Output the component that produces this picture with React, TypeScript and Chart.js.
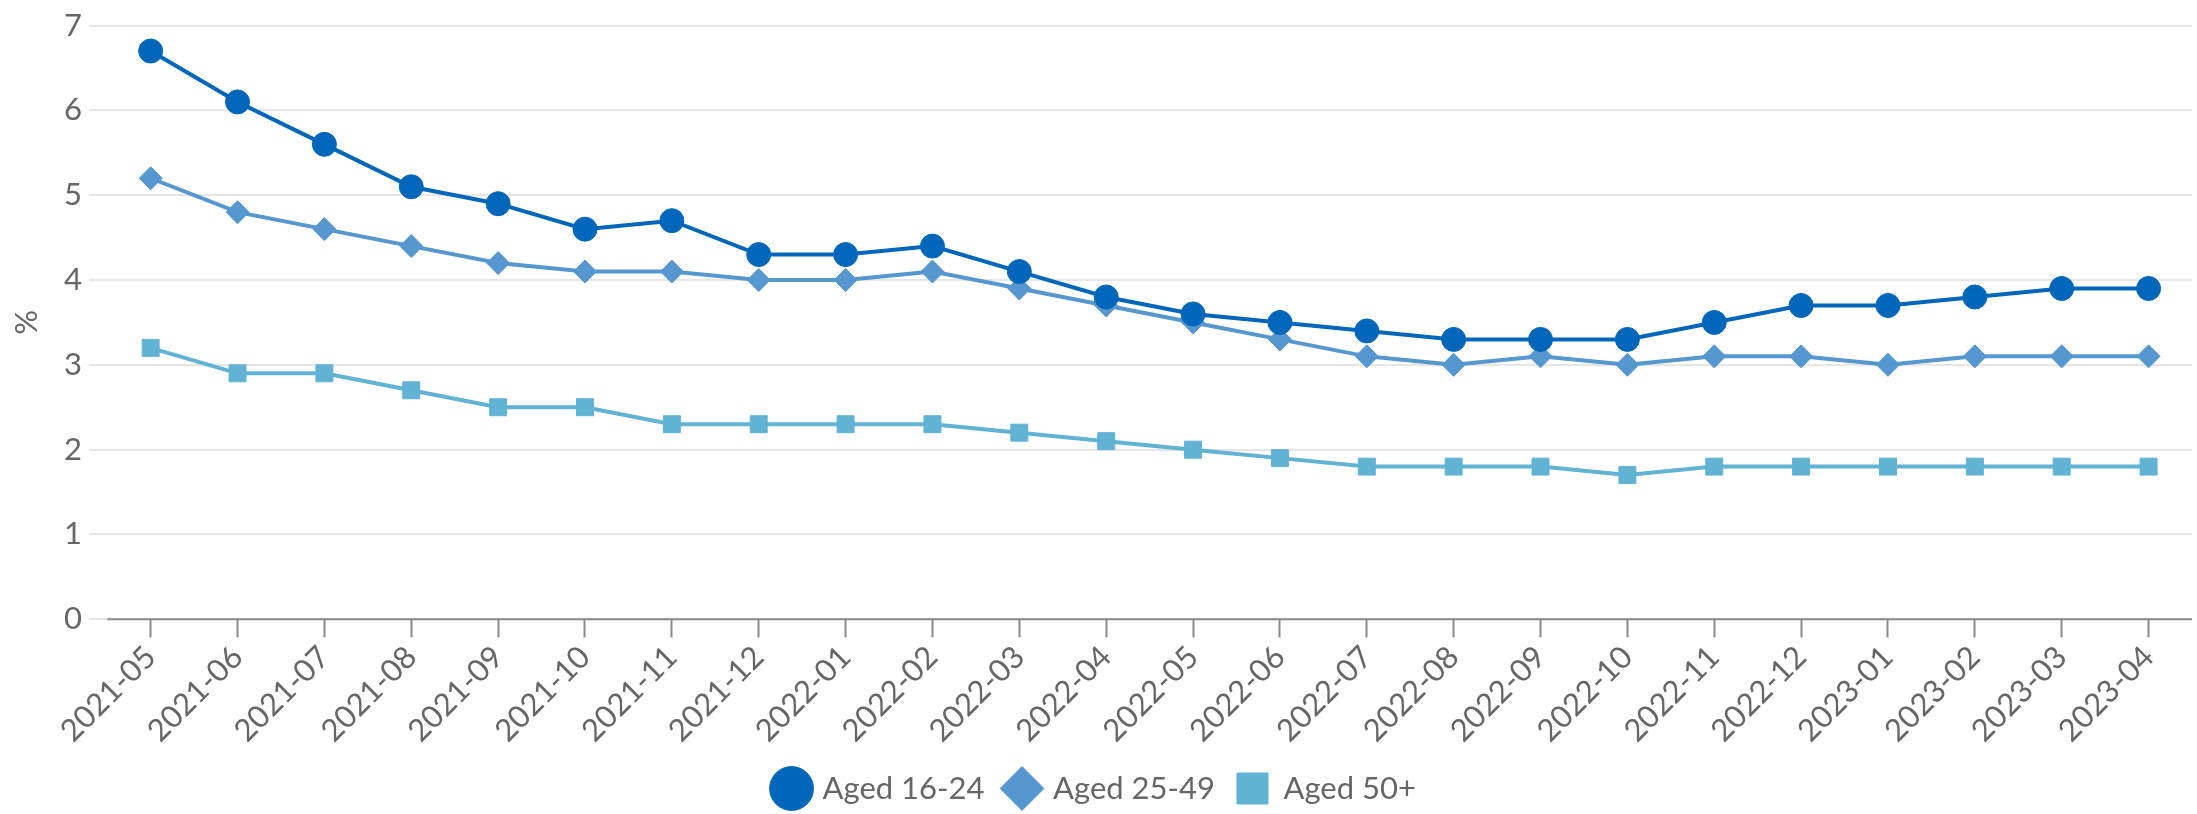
import React, { useEffect, useRef } from 'react';
import { Chart, registerables } from 'chart.js';

Chart.register(...registerables);

const months = [
  '2021-05', '2021-06', '2021-07', '2021-08', '2021-09', '2021-10', '2021-11', '2021-12',
  '2022-01', '2022-02', '2022-03', '2022-04', '2022-05', '2022-06', '2022-07', '2022-08',
  '2022-09', '2022-10', '2022-11', '2022-12', '2023-01', '2023-02', '2023-03', '2023-04',
];

const aged16to24 = [6.7, 6.1, 5.6, 5.1, 4.9, 4.6, 4.7, 4.3, 4.3, 4.4, 4.1, 3.8, 3.6, 3.5, 3.4, 3.3, 3.3, 3.3, 3.5, 3.7, 3.7, 3.8, 3.9, 3.9];
const aged25to49 = [5.2, 4.8, 4.6, 4.4, 4.2, 4.1, 4.1, 4.0, 4.0, 4.1, 3.9, 3.7, 3.5, 3.3, 3.1, 3.0, 3.1, 3.0, 3.1, 3.1, 3.0, 3.1, 3.1, 3.1];
const aged50plus = [3.2, 2.9, 2.9, 2.7, 2.5, 2.5, 2.3, 2.3, 2.3, 2.3, 2.2, 2.1, 2.0, 1.9, 1.8, 1.8, 1.8, 1.7, 1.8, 1.8, 1.8, 1.8, 1.8, 1.8];

const seriesNames = ['Aged 16-24', 'Aged 25-49', 'Aged 50+'];
const seriesColors = ['#0066BA', '#5597CE', '#62B2D4'];
const seriesStyles = ['circle', 'rectRot', 'rect'];
const seriesRadius = [12, 11.5, 12];

const yMin = 0;
const yMax = 7;
const yStep = 1;
const yTitle = '%';

const FONT = 'Lato, "Open Sans", sans-serif';
const TEXT = '#666666';

const xAxisLine = {
  id: 'xAxisLine',
  beforeDatasetsDraw(chart: any) {
    const x = chart.scales.x;
    const y = chart.scales.y;
    const ctx = chart.ctx;
    const y0 = y.getPixelForValue(0);
    ctx.save();
    ctx.strokeStyle = '#8a8a8a';
    ctx.lineWidth = 2;
    ctx.beginPath();
    ctx.moveTo(x.getPixelForValue(-0.5), y0);
    ctx.lineTo(chart.chartArea.right, y0);
    ctx.stroke();
    ctx.restore();
  },
};

export default function App() {
  const ref = useRef<HTMLCanvasElement | null>(null);

  useEffect(() => {
    document.body.style.margin = '0';
    const values = [aged16to24, aged25to49, aged50plus];
    const datasets = values.map((arr, k) => ({
      label: seriesNames[k],
      data: arr.map((v, i) => ({ x: i, y: v })),
      borderColor: seriesColors[k],
      backgroundColor: seriesColors[k],
      pointBackgroundColor: seriesColors[k],
      pointBorderColor: seriesColors[k],
      pointBorderWidth: 1,
      pointStyle: seriesStyles[k],
      pointRadius: seriesRadius[k],
      borderWidth: 4,
      tension: 0,
    }));

    const chart = new Chart(ref.current as HTMLCanvasElement, {
      type: 'line',
      data: { datasets },
      options: {
        animation: false,
        responsive: true,
        maintainAspectRatio: false,
        events: [],
        layout: { autoPadding: false, padding: { top: 23, right: 5, left: 0, bottom: 0 } },
        plugins: {
          tooltip: { enabled: false },
          legend: {
            position: 'bottom',
            labels: {
              usePointStyle: true,
              color: TEXT,
              padding: 22,
              font: { family: FONT, size: 31 },
            },
          },
        },
        scales: {
          x: {
            type: 'linear',
            min: -0.71,
            max: 23.5,
            border: { display: false },
            grid: {
              drawOnChartArea: false,
              drawTicks: true,
              tickLength: 18,
              tickColor: '#8a8a8a',
              tickWidth: 2,
            },
            afterBuildTicks(scale: any) {
              scale.ticks = months.map((_, i) => ({ value: i }));
            },
            ticks: {
              autoSkip: false,
              maxRotation: 45,
              minRotation: 45,
              color: TEXT,
              font: { family: FONT, size: 31 },
              padding: 1.5,
              callback: (v: any) => months[v] ?? '',
            },
          },
          y: {
            min: yMin,
            max: yMax,
            border: { display: false },
            grid: { color: '#e6e6e6', lineWidth: 2, drawTicks: false },
            ticks: {
              stepSize: yStep,
              color: TEXT,
              padding: 7,
              font: { family: FONT, size: 31 },
            },
            title: {
              display: true,
              text: yTitle,
              color: TEXT,
              font: { family: FONT, size: 31 },
              padding: { top: 8, bottom: 0 },
            },
            afterFit(scale: any) {
              scale.width = 89;
            },
          },
        },
      },
      plugins: [xAxisLine],
    });
    return () => chart.destroy();
  }, []);

  return (
    <div style={{ width: '2197px', height: '814px', position: 'relative' }}>
      <canvas ref={ref} />
    </div>
  );
}
